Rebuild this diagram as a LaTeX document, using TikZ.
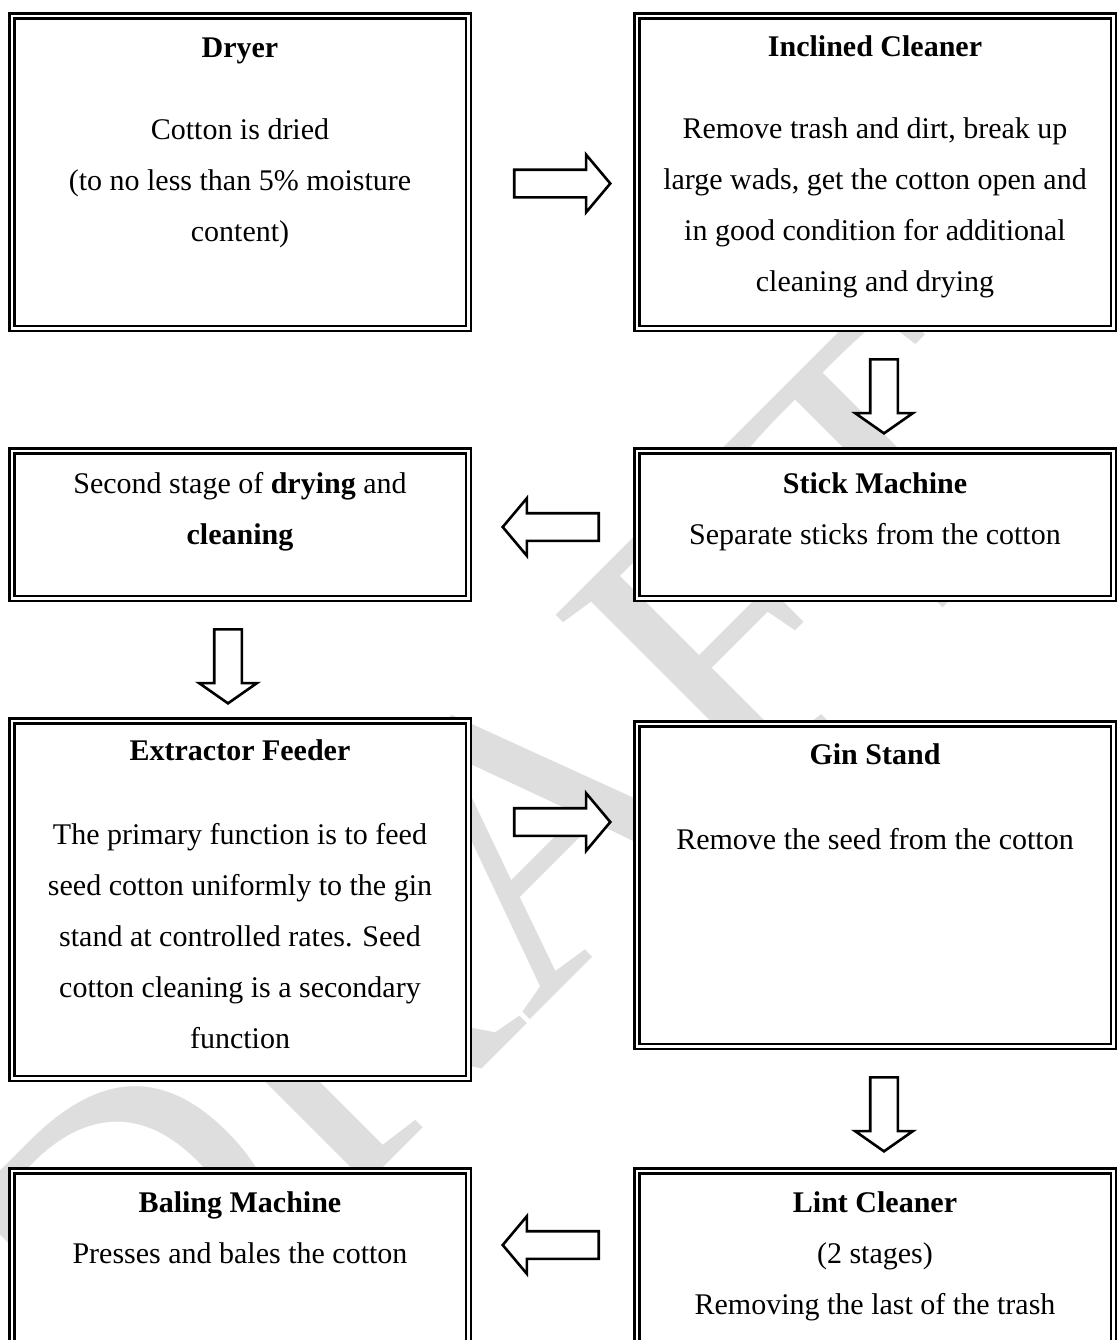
\documentclass[tikz,border=0pt]{standalone}
\usepackage{fontspec}
\setmainfont{Liberation Serif}
\usetikzlibrary{positioning,shapes.arrows}

\tikzstyle{stage box}=[
        draw = black,
        line width = 1.25pt,
        double = white,
        double distance = 1.25pt,
        fill = white,
        inner sep = 0pt,
        outer sep = 0pt,
        minimum width = 228.25pt
    ]
\tikzstyle{hollow arrow}=[
        draw = black,
        line width = 1.3pt,
        fill = white,
        single arrow,
        single arrow head extend = 7.5pt,
        single arrow tip angle = 100,
        inner sep = 6.25pt,
        minimum height = 48pt
    ]

\begin{document}
\begin{tikzpicture}[x=0.5pt, y=-0.5pt, node distance={61.25pt and 84.25pt},
        wide/.style = {minimum width = 238.25pt},
        down/.style = {rotate = -90, minimum height = 37pt, single arrow tip angle = 110},
        txt/.style = {align = center, anchor = base, inner sep = 0pt,
                      font = \fontsize{15}{25.5}\selectfont}]
    \useasboundingbox (0,0) rectangle (1118,1340);

    % watermark
    \node[rotate=45, text=black!13, font=\fontsize{205}{205}\selectfont] (draft) at (505,855) {DRAFT};

    % boxes
    \node[stage box, minimum height=156.25pt] (dryer) at (240,172) {};
    \node[stage box, wide, minimum height=156.25pt] (incl) [right=of dryer] {};
    \node[stage box, minimum height=73.75pt] (second) [below=of dryer] {};
    \node[stage box, wide, minimum height=73.75pt] (stick) [right=of second] {};
    \node[stage box, minimum height=178.75pt] (extr) [below=of second] {};
    \node[stage box, wide, minimum height=161.25pt] (gin) [below=62.75pt of stick] {};
    \node[stage box, minimum height=90pt] (baling) [below=46.25pt of extr] {};
    \node[stage box, wide, minimum height=90pt] (lint) [right=of baling] {};

    % texts (anchored on their last line)
    \node[txt] (dryer txt) at ([yshift=-112.9pt]dryer.north) {\textbf{Dryer}\\[15.5pt]
        Cotton is dried\\ (to no less than 5\% moisture\\ content)};
    \node[txt] (incl txt) at ([yshift=-138.1pt]incl.north) {\textbf{Inclined Cleaner}\\[15.5pt]
        Remove trash and dirt, break up\\ large wads, get the cotton open and\\
        in good condition for additional\\ cleaning and drying};
    \node[txt] (second txt) at ([yshift=-47.1pt]second.north) {Second stage of \textbf{drying} and\\
        \textbf{cleaning}};
    \node[txt] (stick txt) at ([yshift=-47.1pt]stick.north) {\textbf{Stick Machine}\\
        Separate sticks from the cotton};
    \node[txt] (extr txt) at ([yshift=-164.1pt]extr.north) {\textbf{Extractor Feeder}\\[16.5pt]
        The primary function is to feed\\ seed cotton uniformly to the gin\\
        stand at controlled rates. Seed\\ cotton cleaning is a secondary\\ function};
    \node[txt] (gin txt) at ([yshift=-63.1pt]gin.north) {\textbf{Gin Stand}\\[17pt]
        Remove the seed from the cotton};
    \node[txt] (baling txt) at ([yshift=-46.4pt]baling.north) {\textbf{Baling Machine}\\
        Presses and bales the cotton};
    \node[txt] (lint txt) at ([yshift=-71.9pt]lint.north) {\textbf{Lint Cleaner}\\
        (2 stages)\\ Removing the last of the trash};

    % arrows
    \node[hollow arrow] (a1) at (556.5,183.5) {};
    \node[hollow arrow, down] (a2) at (884,391.5) {};
    \node[hollow arrow, rotate=180] (a3) at (556.5,527) {};
    \node[hollow arrow, down] (a4) at (228,661.5) {};
    \node[hollow arrow] (a5) at (556.5,822) {};
    \node[hollow arrow, down] (a6) at (884,1109.5) {};
    \node[hollow arrow, rotate=180] (a7) at (556.5,1245) {};
\end{tikzpicture}
\end{document}
